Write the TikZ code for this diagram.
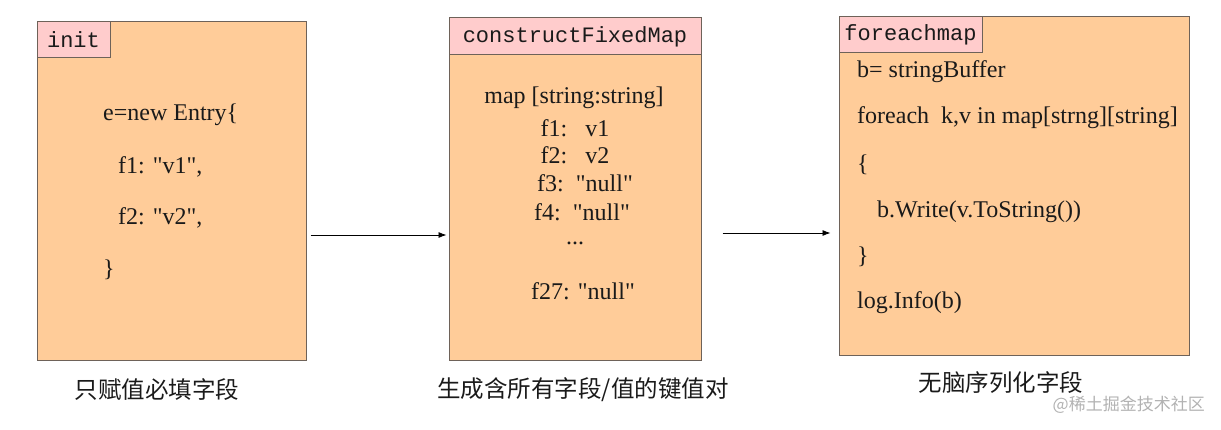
\documentclass[tikz,border=0pt]{standalone}
\usepackage{fontspec}
\setmainfont{Liberation Serif}[Ligatures=TeXOff]
\setmonofont{Liberation Mono}
\newfontfamily\cjk{Noto Sans CJK SC}
\usetikzlibrary{arrows.meta}
\definecolor{peche}{HTML}{FFCC99}
\definecolor{rose}{HTML}{FFCCCC}
\definecolor{bord}{HTML}{6E6259}
\definecolor{encre}{HTML}{1A1A1A}
\tikzset{boite/.style={draw=bord,line width=1pt,fill=peche,inner sep=0pt},onglet/.style={draw=bord,line width=1pt,fill=rose,inner sep=0pt,anchor=north west,text=encre,font=\fontsize{22}{24}\ttfamily},ligne/.style={inner sep=0pt,text=encre,font=\fontsize{24}{28}\selectfont},legende/.style={inner sep=0pt,text=encre,font=\fontsize{23.5}{26}\cjk},flux/.style={-{Latex[length=8pt,width=6pt]},line width=0.8pt}}

\begin{document}
\begin{tikzpicture}[x=1pt,y=-1pt]
\useasboundingbox (0,0) rectangle (1221,430);
% blocs
\node[boite,minimum width=269,minimum height=338] (init) at (171.5,191) {};
\node[boite,minimum width=252,minimum height=342] (fixed) at (575,189) {};
\node[boite,minimum width=350,minimum height=338] (each) at (1014,186) {};
\node[onglet,minimum width=73,minimum height=36] (tinit) at (init.north west) {init};
\node[onglet,minimum width=252,minimum height=37] (tfixed) at (fixed.north west) {constructFixedMap};
\node[onglet,minimum width=143,minimum height=36] (teach) at (each.north west) {foreachmap};
% init
\node[ligne,anchor=west] (i1) at (103,115) {e=new Entry\{};
\node[ligne,anchor=west] (i2) at (118,167) {f1: "v1",};
\node[ligne,anchor=west] (i3) at (118,218) {f2: "v2",};
\node[ligne,anchor=west] (i4) at (103,270) {\}};
% constructFixedMap
\node[ligne] (m0) at (574,98) {map [string:string]};
\node[ligne] (m1) at (575,128) {f1:\ \ \ v1};
\node[ligne] (m2) at (575,155) {f2:\ \ \ v2};
\node[ligne] (m3) at (585,183) {f3:\ \ "null"};
\node[ligne] (m4) at (582,212) {f4:\ \ "null"};
\node[ligne] (m5) at (575,243) {...};
\node[ligne] (m6) at (583,291) {f27: "null"};
% foreachmap
\node[ligne,anchor=west] (e1) at (857,72) {b= stringBuffer};
\node[ligne,anchor=west] (e2) at (857,118) {foreach\ \ k,v\ in\ map[strng][string]};
\node[ligne,anchor=west] (e3) at (857,165) {\{};
\node[ligne,anchor=west] (e4) at (877,212) {b.Write(v.ToString())};
\node[ligne,anchor=west] (e5) at (857,257) {\}};
\node[ligne,anchor=west] (e6) at (857,303) {log.Info(b)};
% legendes
\node[legende] (l1) at (157,390) {只赋值必填字段};
\node[legende] (l2) at (583,390) {生成含所有字段/值的键值对};
\node[legende] (l3) at (1001,383) {无脑序列化字段};
\node[inner sep=0pt,text=black!30,font=\fontsize{17}{20}\cjk,anchor=east] (wm) at (1205,405) {@稀土掘金技术社区};
% fleches
\draw[flux] ([xshift=4]init.east |- 0,235) -- ([xshift=-2]fixed.west |- 0,235);
\draw[flux] ([xshift=21]fixed.east |- 0,233) -- ([xshift=-8]each.west |- 0,233);
\end{tikzpicture}
\end{document}
